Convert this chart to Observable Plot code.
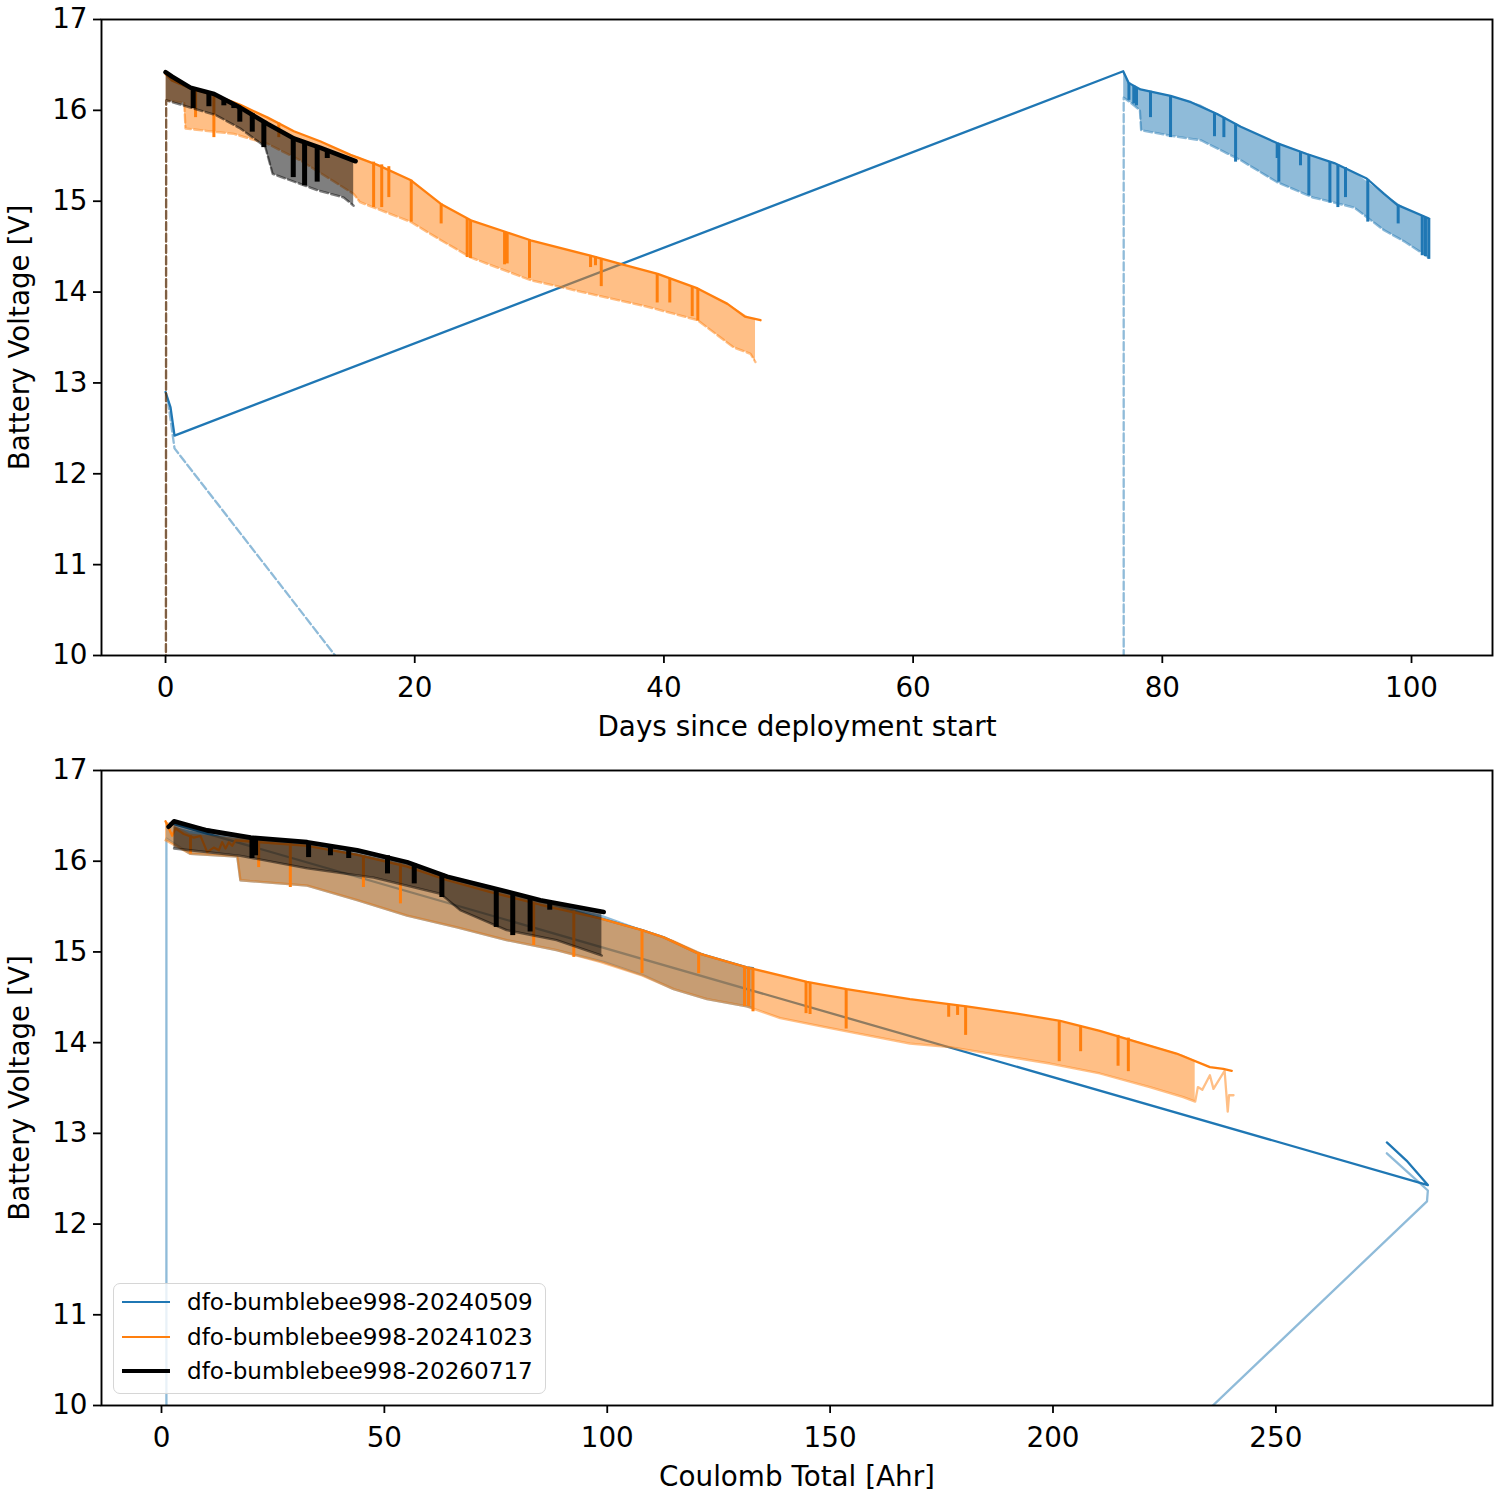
<!DOCTYPE html>
<html><head><meta charset="utf-8">
<script src="https://cdn.jsdelivr.net/npm/d3@7"></script>
<script src="https://cdn.jsdelivr.net/npm/@observablehq/plot@0.6"></script>
<style>
body{margin:0;background:#fff;}
#fig{position:relative;width:1500px;height:1500px;background:#fff;font-family:"DejaVu Sans",sans-serif;}
#fig svg{display:block;}
.legend{position:absolute;left:113px;top:1283px;width:433px;height:111px;border:1.8px solid #d6d6d6;border-radius:7px;background:rgba(255,255,255,0.8);box-sizing:border-box;}
.handle{position:absolute;left:8px;width:48px;}
.ltext{position:absolute;left:73px;font-size:23.1px;line-height:28px;color:#000;white-space:nowrap;}
</style></head>
<body><div id="fig"></div>
<script>
const C0 = "#1f77b4", C1 = "#ff7f0e", CK = "#000000";
const seriesNames = ["dfo-bumblebee998-20240509", "dfo-bumblebee998-20241023", "dfo-bumblebee998-20260717"];
const yTicks = [10, 11, 12, 13, 14, 15, 16, 17];
const xTicksTop = [0, 20, 40, 60, 80, 100];
const xTicksBottom = [0, 50, 100, 150, 200, 250];

// ---------- TOP PANEL (days since deployment start) ----------
// blue
const tBlueLineX = [0, 0.4, 0.72, 76.86, 77.3, 78.25, 80.66, 82.3, 84.4, 86.3, 89.2, 91.6, 93.8, 96.4, 97.8, 98.85, 101.4];
const tBlueLineV = [12.9, 12.73, 12.42, 16.43, 16.30, 16.23, 16.16, 16.09, 15.96, 15.82, 15.64, 15.52, 15.42, 15.25, 15.08, 14.96, 14.81];
const tBlueBandX = [76.9, 77.5, 78.2, 78.3, 80.7, 83.1, 86.3, 89.2, 92.1, 95.4, 97.8, 99.5, 101.4];
const tBlueBandHi = [16.43, 16.27, 16.23, 16.23, 16.16, 16.06, 15.82, 15.64, 15.50, 15.32, 15.08, 14.92, 14.81];
const tBlueBandLo = [16.14, 16.08, 16.00, 15.78, 15.72, 15.67, 15.45, 15.21, 15.04, 14.93, 14.68, 14.55, 14.38];
const tBlueLowHeadX = [0.2, 0.72, 76.9];
const tBlueLowHeadV = [12.8, 12.28, -1.19];
const tBlueSpkX = [77.32, 77.71, 77.93, 79.05, 80.66, 84.19, 84.94, 85.88, 89.22, 89.35, 91.09, 91.76, 93.45, 94.09, 94.70, 96.49, 98.93, 100.86, 101.12, 101.39];
const tBlueSpkTop = [16.30, 16.27, 16.25, 16.21, 16.16, 15.97, 15.92, 15.85, 15.64, 15.63, 15.54, 15.51, 15.43, 15.40, 15.37, 15.24, 14.95, 14.84, 14.82, 14.81];
const tBlueSpkBot = [16.11, 16.07, 16.05, 15.92, 15.70, 15.71, 15.70, 15.43, 15.47, 15.21, 15.39, 15.06, 14.98, 14.93, 15.04, 14.77, 14.75, 14.40, 14.39, 14.36];
// orange
const tOrLineX = [0, 0.5, 2.0, 3.9, 6.0, 8.2, 10.3, 12.4, 14.85, 17.0, 19.7, 22.1, 24.5, 29.3, 34.1, 36.8, 39.5, 42.7, 45.1, 46.5, 47.75];
const tOrLineV = [16.40, 16.33, 16.24, 16.17, 16.06, 15.92, 15.77, 15.66, 15.51, 15.40, 15.23, 14.97, 14.79, 14.57, 14.40, 14.30, 14.20, 14.04, 13.87, 13.73, 13.69];
const tOrBandX = [0.05, 1.5, 1.6, 5.5, 8.2, 10.8, 15.1, 15.6, 19.7, 22.1, 24.5, 29.3, 34.1, 38.9, 42.7, 45.6, 46.95, 47.35];
const tOrBandHi = [16.40, 16.28, 16.27, 16.09, 15.92, 15.74, 15.50, 15.48, 15.23, 14.97, 14.79, 14.57, 14.40, 14.22, 14.04, 13.83, 13.71, 13.70];
const tOrBandLo = [16.11, 16.08, 15.80, 15.74, 15.63, 15.45, 15.08, 14.99, 14.77, 14.57, 14.38, 14.13, 13.98, 13.83, 13.69, 13.39, 13.32, 13.23];
const tOrLowHeadX = [0];
const tOrLowHeadV = [0];
const tOrSpkX = [2.41, 3.88, 9.09, 16.70, 17.35, 17.92, 19.72, 22.12, 24.21, 24.48, 27.21, 27.42, 29.21, 34.11, 34.51, 34.97, 39.46, 40.47, 42.27, 42.72];
const tOrSpkTop = [16.22, 16.17, 15.86, 15.43, 15.40, 15.38, 15.23, 14.97, 14.81, 14.79, 14.66, 14.65, 14.57, 14.40, 14.39, 14.37, 14.20, 14.15, 14.06, 14.04];
const tOrSpkBot = [15.92, 15.70, 15.70, 14.93, 14.93, 15.04, 14.77, 14.75, 14.38, 14.37, 14.30, 14.31, 14.15, 14.27, 14.29, 14.06, 13.88, 13.88, 13.73, 13.68];
// black
const tBkLineX = [0, 0.54, 2.0, 3.9, 6.0, 8.2, 10.3, 12.4, 15.25];
const tBkLineV = [16.42, 16.37, 16.25, 16.18, 16.03, 15.85, 15.69, 15.59, 15.44];
const tBkBandX = [0.05, 2.0, 4.0, 6.0, 8.0, 8.6, 10.8, 12.2, 14.3, 15.1];
const tBkBandHi = [16.42, 16.25, 16.17, 16.03, 15.87, 15.82, 15.67, 15.60, 15.50, 15.45];
const tBkBandLo = [16.11, 16.03, 15.95, 15.80, 15.60, 15.30, 15.19, 15.12, 15.04, 14.95];
const tBkLowHeadX = [0];
const tBkLowHeadV = [0];
const tBkSpkX = [2.22, 3.48, 4.68, 5.48, 5.96, 6.96, 7.89, 10.25, 11.16, 12.17, 12.98];
const tBkSpkTop = [16.25, 16.19, 16.13, 16.07, 16.03, 15.96, 15.88, 15.69, 15.65, 15.60, 15.56];
const tBkSpkBot = [16.02, 16.04, 16.05, 16.02, 15.87, 15.76, 15.59, 15.26, 15.17, 15.21, 15.47];

// ---------- BOTTOM PANEL (Coulomb total, Ahr) ----------
// blue
const bBlueLineX = [274.9, 279.3, 284.1, 2.0, 10.2, 20.0, 32.7, 43.9, 55.1, 64.1, 73.8, 85.0, 98.4, 107.8, 112.7, 120.1, 131.3, 132.7];
const bBlueLineV = [12.90, 12.70, 12.43, 16.42, 16.33, 16.25, 16.20, 16.11, 15.98, 15.82, 15.70, 15.56, 15.37, 15.24, 15.16, 14.99, 14.83, 14.82];
const bBlueBandX = [1.1, 6.5, 17.0, 17.7, 32.7, 43.9, 55.1, 66.3, 77.4, 88.6, 99.2, 108.2, 114.9, 122.4, 131.3, 132.7];
const bBlueBandHi = [16.40, 16.33, 16.25, 16.25, 16.18, 16.08, 15.96, 15.80, 15.65, 15.52, 15.40, 15.24, 15.12, 14.96, 14.83, 14.82];
const bBlueBandLo = [16.25, 16.08, 16.05, 15.79, 15.73, 15.57, 15.40, 15.27, 15.13, 15.02, 14.89, 14.74, 14.59, 14.48, 14.40, 14.38];
const bBlueLowHeadX = [274.9, 282.1, 284.1, 283.9, 1.1];
const bBlueLowHeadV = [12.78, 12.46, 12.37, 12.25, -1.0];
// orange
const bOrLineX = [0.9, 2.4, 3.14, 5.0, 7.25, 8.75, 10.25, 11.73, 12.86, 13.61, 14.36, 15.1, 15.85, 16.6, 19.23, 32.7, 43.9, 55.1, 64.1, 73.8, 85.0, 98.4, 107.8, 112.7, 120.1, 131.3, 144.8, 153.7, 167.9, 180.6, 191.9, 201.6, 210.5, 218.0, 227.7, 235.2, 238.2, 240.1];
const bOrLineV = [16.44, 16.28, 16.36, 16.30, 16.26, 16.28, 16.10, 16.15, 16.12, 16.21, 16.14, 16.21, 16.17, 16.23, 16.22, 16.17, 16.07, 15.94, 15.79, 15.66, 15.52, 15.37, 15.24, 15.16, 14.99, 14.83, 14.67, 14.59, 14.48, 14.40, 14.32, 14.24, 14.13, 14.02, 13.88, 13.73, 13.71, 13.69];
const bOrBandX = [0.9, 6.5, 17.0, 17.7, 32.7, 43.9, 55.1, 66.3, 77.4, 88.6, 98.4, 107.8, 114.9, 122.4, 131.3, 138.8, 150.0, 167.9, 176.9, 188.1, 199.3, 210.5, 221.7, 229.2, 231.9];
const bOrBandHi = [16.44, 16.30, 16.25, 16.25, 16.18, 16.08, 15.96, 15.80, 15.65, 15.52, 15.37, 15.24, 15.13, 14.96, 14.83, 14.73, 14.62, 14.47, 14.42, 14.34, 14.25, 14.13, 13.97, 13.86, 13.80];
const bOrBandLo = [16.23, 16.08, 16.05, 15.79, 15.73, 15.57, 15.40, 15.27, 15.13, 15.02, 14.89, 14.74, 14.59, 14.48, 14.40, 14.27, 14.16, 13.99, 13.95, 13.86, 13.77, 13.66, 13.51, 13.40, 13.35];
const bOrLowTailX = [232.5, 233.5, 235.2, 236.0, 238.5, 239.2, 239.5, 240.5];
const bOrLowTailV = [13.51, 13.48, 13.64, 13.49, 13.69, 13.24, 13.42, 13.42];
const bOrSpkX = [6.5, 21.8, 28.9, 45.3, 53.6, 83.5, 92.5, 107.8, 120.5, 130.8, 131.7, 132.7, 144.6, 145.5, 153.6, 176.6, 178.6, 180.4, 201.4, 206.2, 214.6, 216.9];
const bOrSpkTop = [16.28, 16.22, 16.20, 16.06, 15.97, 15.55, 15.45, 15.24, 14.98, 14.84, 14.83, 14.82, 14.67, 14.66, 14.59, 14.42, 14.41, 14.40, 14.24, 14.18, 14.08, 14.05];
const bOrSpkBot = [16.08, 15.93, 15.71, 15.71, 15.53, 15.07, 14.94, 14.76, 14.76, 14.40, 14.40, 14.34, 14.32, 14.31, 14.15, 14.28, 14.30, 14.08, 13.79, 13.90, 13.74, 13.68];
// black
const bBkLineX = [1.6, 2.8, 10.2, 20.0, 32.7, 43.9, 55.1, 64.1, 73.8, 85.0, 99.2];
const bBkLineV = [16.38, 16.44, 16.34, 16.26, 16.21, 16.12, 15.99, 15.83, 15.71, 15.57, 15.44];
const bBkBandX = [2.8, 17.7, 32.7, 47.6, 62.6, 67.0, 77.4, 88.6, 98.8];
const bBkBandHi = [16.44, 16.28, 16.21, 16.09, 15.86, 15.80, 15.68, 15.53, 15.44];
const bBkBandLo = [16.14, 16.06, 15.92, 15.82, 15.64, 15.46, 15.24, 15.13, 14.96];
const bBkSpkX = [20.3, 21.1, 33.0, 37.9, 42.0, 50.7, 56.7, 62.9, 75.1, 78.8, 82.7, 87.1];
const bBkSpkTop = [16.26, 16.25, 16.21, 16.17, 16.13, 16.06, 15.97, 15.86, 15.69, 15.65, 15.60, 15.55];
const bBkSpkBot = [16.03, 16.06, 16.04, 16.06, 16.03, 15.86, 15.75, 15.60, 15.27, 15.18, 15.22, 15.46];

// ---------- helpers ----------
const pts = (xs, ys) => xs.map((x, i) => ({x, y: ys[i]}));
const bandRows = (xs, lo, hi) => xs.map((x, i) => ({x, lo: lo[i], hi: hi[i]}));
const spkRows = (xs, t, b) => xs.map((x, i) => ({x, t: t[i], b: b[i]}));

function seriesMarks(s) {
  const marks = [
    Plot.areaY(bandRows(s.bandX, s.bandLo, s.bandHi), {x: "x", y1: "lo", y2: "hi", fill: s.color, fillOpacity: 0.5, clip: true}),
    Plot.line(pts(s.lowX, s.lowV), {x: "x", y: "y", stroke: s.color, strokeOpacity: 0.5, strokeWidth: s.lowLw, strokeDasharray: s.dash, clip: true}),
    Plot.line(pts(s.lineX, s.lineV), {x: "x", y: "y", stroke: s.color, strokeWidth: s.lw, clip: true})
  ];
  if (s.spkX) marks.push(Plot.ruleX(spkRows(s.spkX, s.spkTop, s.spkBot), {x: "x", y1: "t", y2: "b", stroke: s.color, strokeWidth: s.sw, clip: true}));
  return marks;
}

function axes(xt, xlabel) {
  return [
    Plot.axisX({ticks: xt, tickSize: 8, tickPadding: 14, strokeWidth: 1.8, fontSize: 27.8, tickFormat: d => String(d),
      label: xlabel, labelAnchor: "center", labelArrow: "none", labelOffset: 80}),
    Plot.axisY({ticks: yTicks, tickSize: 8, tickPadding: 6, strokeWidth: 1.8, fontSize: 27.8, tickFormat: d => String(d),
      label: "Battery Voltage [V]", labelAnchor: "center", labelArrow: "none", labelOffset: 92}),
    Plot.frame({stroke: "black", strokeWidth: 1.9})
  ];
}

const common = {
  width: 1500, height: 750,
  marginLeft: 101, marginRight: 8,
  y: {domain: [10, 17]},
  style: {fontFamily: "DejaVu Sans", fontSize: "27.8px", color: "black", background: "white", overflow: "visible"}
};

const dash = "8,3.4";
const LW = 2.3, LWK = 4.6, SW = 3, SWK = 5;

const topPlot = Plot.plot({
  ...common,
  marginTop: 19, marginBottom: 95,
  x: {domain: [-5.14, 106.5]},
  marks: [
    ...seriesMarks({color: C0, lw: LW, lowLw: LW, sw: SW, dash,
      lineX: tBlueLineX, lineV: tBlueLineV, bandX: tBlueBandX, bandLo: tBlueBandLo, bandHi: tBlueBandHi,
      lowX: tBlueLowHeadX.concat(tBlueBandX), lowV: tBlueLowHeadV.concat(tBlueBandLo),
      spkX: tBlueSpkX, spkTop: tBlueSpkTop, spkBot: tBlueSpkBot}),
    ...seriesMarks({color: C1, lw: LW, lowLw: LW, sw: SW, dash,
      lineX: tOrLineX, lineV: tOrLineV, bandX: tOrBandX, bandLo: tOrBandLo, bandHi: tOrBandHi,
      lowX: tOrLowHeadX.concat(tOrBandX), lowV: tOrLowHeadV.concat(tOrBandLo),
      spkX: tOrSpkX, spkTop: tOrSpkTop, spkBot: tOrSpkBot}),
    ...seriesMarks({color: CK, lw: LWK, lowLw: LW, sw: SWK, dash,
      lineX: tBkLineX, lineV: tBkLineV, bandX: tBkBandX, bandLo: tBkBandLo, bandHi: tBkBandHi,
      lowX: tBkLowHeadX.concat(tBkBandX), lowV: tBkLowHeadV.concat(tBkBandLo),
      spkX: tBkSpkX, spkTop: tBkSpkTop, spkBot: tBkSpkBot}),
    ...axes(xTicksTop, "Days since deployment start")
  ]
});

const bottomPlot = Plot.plot({
  ...common,
  marginTop: 20, marginBottom: 95,
  x: {domain: [-13.46, 298.6]},
  marks: [
    ...seriesMarks({color: C0, lw: LW, lowLw: LW, sw: SW, dash: null,
      lineX: bBlueLineX, lineV: bBlueLineV, bandX: bBlueBandX, bandLo: bBlueBandLo, bandHi: bBlueBandHi,
      lowX: bBlueLowHeadX.concat(bBlueBandX), lowV: bBlueLowHeadV.concat(bBlueBandLo)}),
    ...seriesMarks({color: C1, lw: LW, lowLw: LW, sw: SW, dash: null,
      lineX: bOrLineX, lineV: bOrLineV, bandX: bOrBandX, bandLo: bOrBandLo, bandHi: bOrBandHi,
      lowX: bOrBandX.concat(bOrLowTailX), lowV: bOrBandLo.concat(bOrLowTailV),
      spkX: bOrSpkX, spkTop: bOrSpkTop, spkBot: bOrSpkBot}),
    ...seriesMarks({color: CK, lw: LWK, lowLw: LW, sw: SWK, dash: null,
      lineX: bBkLineX, lineV: bBkLineV, bandX: bBkBandX, bandLo: bBkBandLo, bandHi: bBkBandHi,
      lowX: bBkBandX, lowV: bBkBandLo,
      spkX: bBkSpkX, spkTop: bBkSpkTop, spkBot: bBkSpkBot}),
    ...axes(xTicksBottom, "Coulomb Total [Ahr]")
  ]
});

const fig = document.getElementById("fig");
fig.appendChild(topPlot);
fig.appendChild(bottomPlot);

// legend (inside the lower panel)
const legend = document.createElement("div");
legend.className = "legend";
const legendColors = [C0, C1, CK];
const legendWidths = [LW, LW, LWK];
const rowY = [18, 53, 87];
seriesNames.forEach((name, i) => {
  const h = document.createElement("div");
  h.className = "handle";
  h.style.top = (rowY[i] - legendWidths[i] / 2) + "px";
  h.style.height = legendWidths[i] + "px";
  h.style.background = legendColors[i];
  legend.appendChild(h);
  const t = document.createElement("div");
  t.className = "ltext";
  t.style.top = (rowY[i] - 14) + "px";
  t.textContent = name;
  legend.appendChild(t);
});
fig.appendChild(legend);
</script></body></html>
